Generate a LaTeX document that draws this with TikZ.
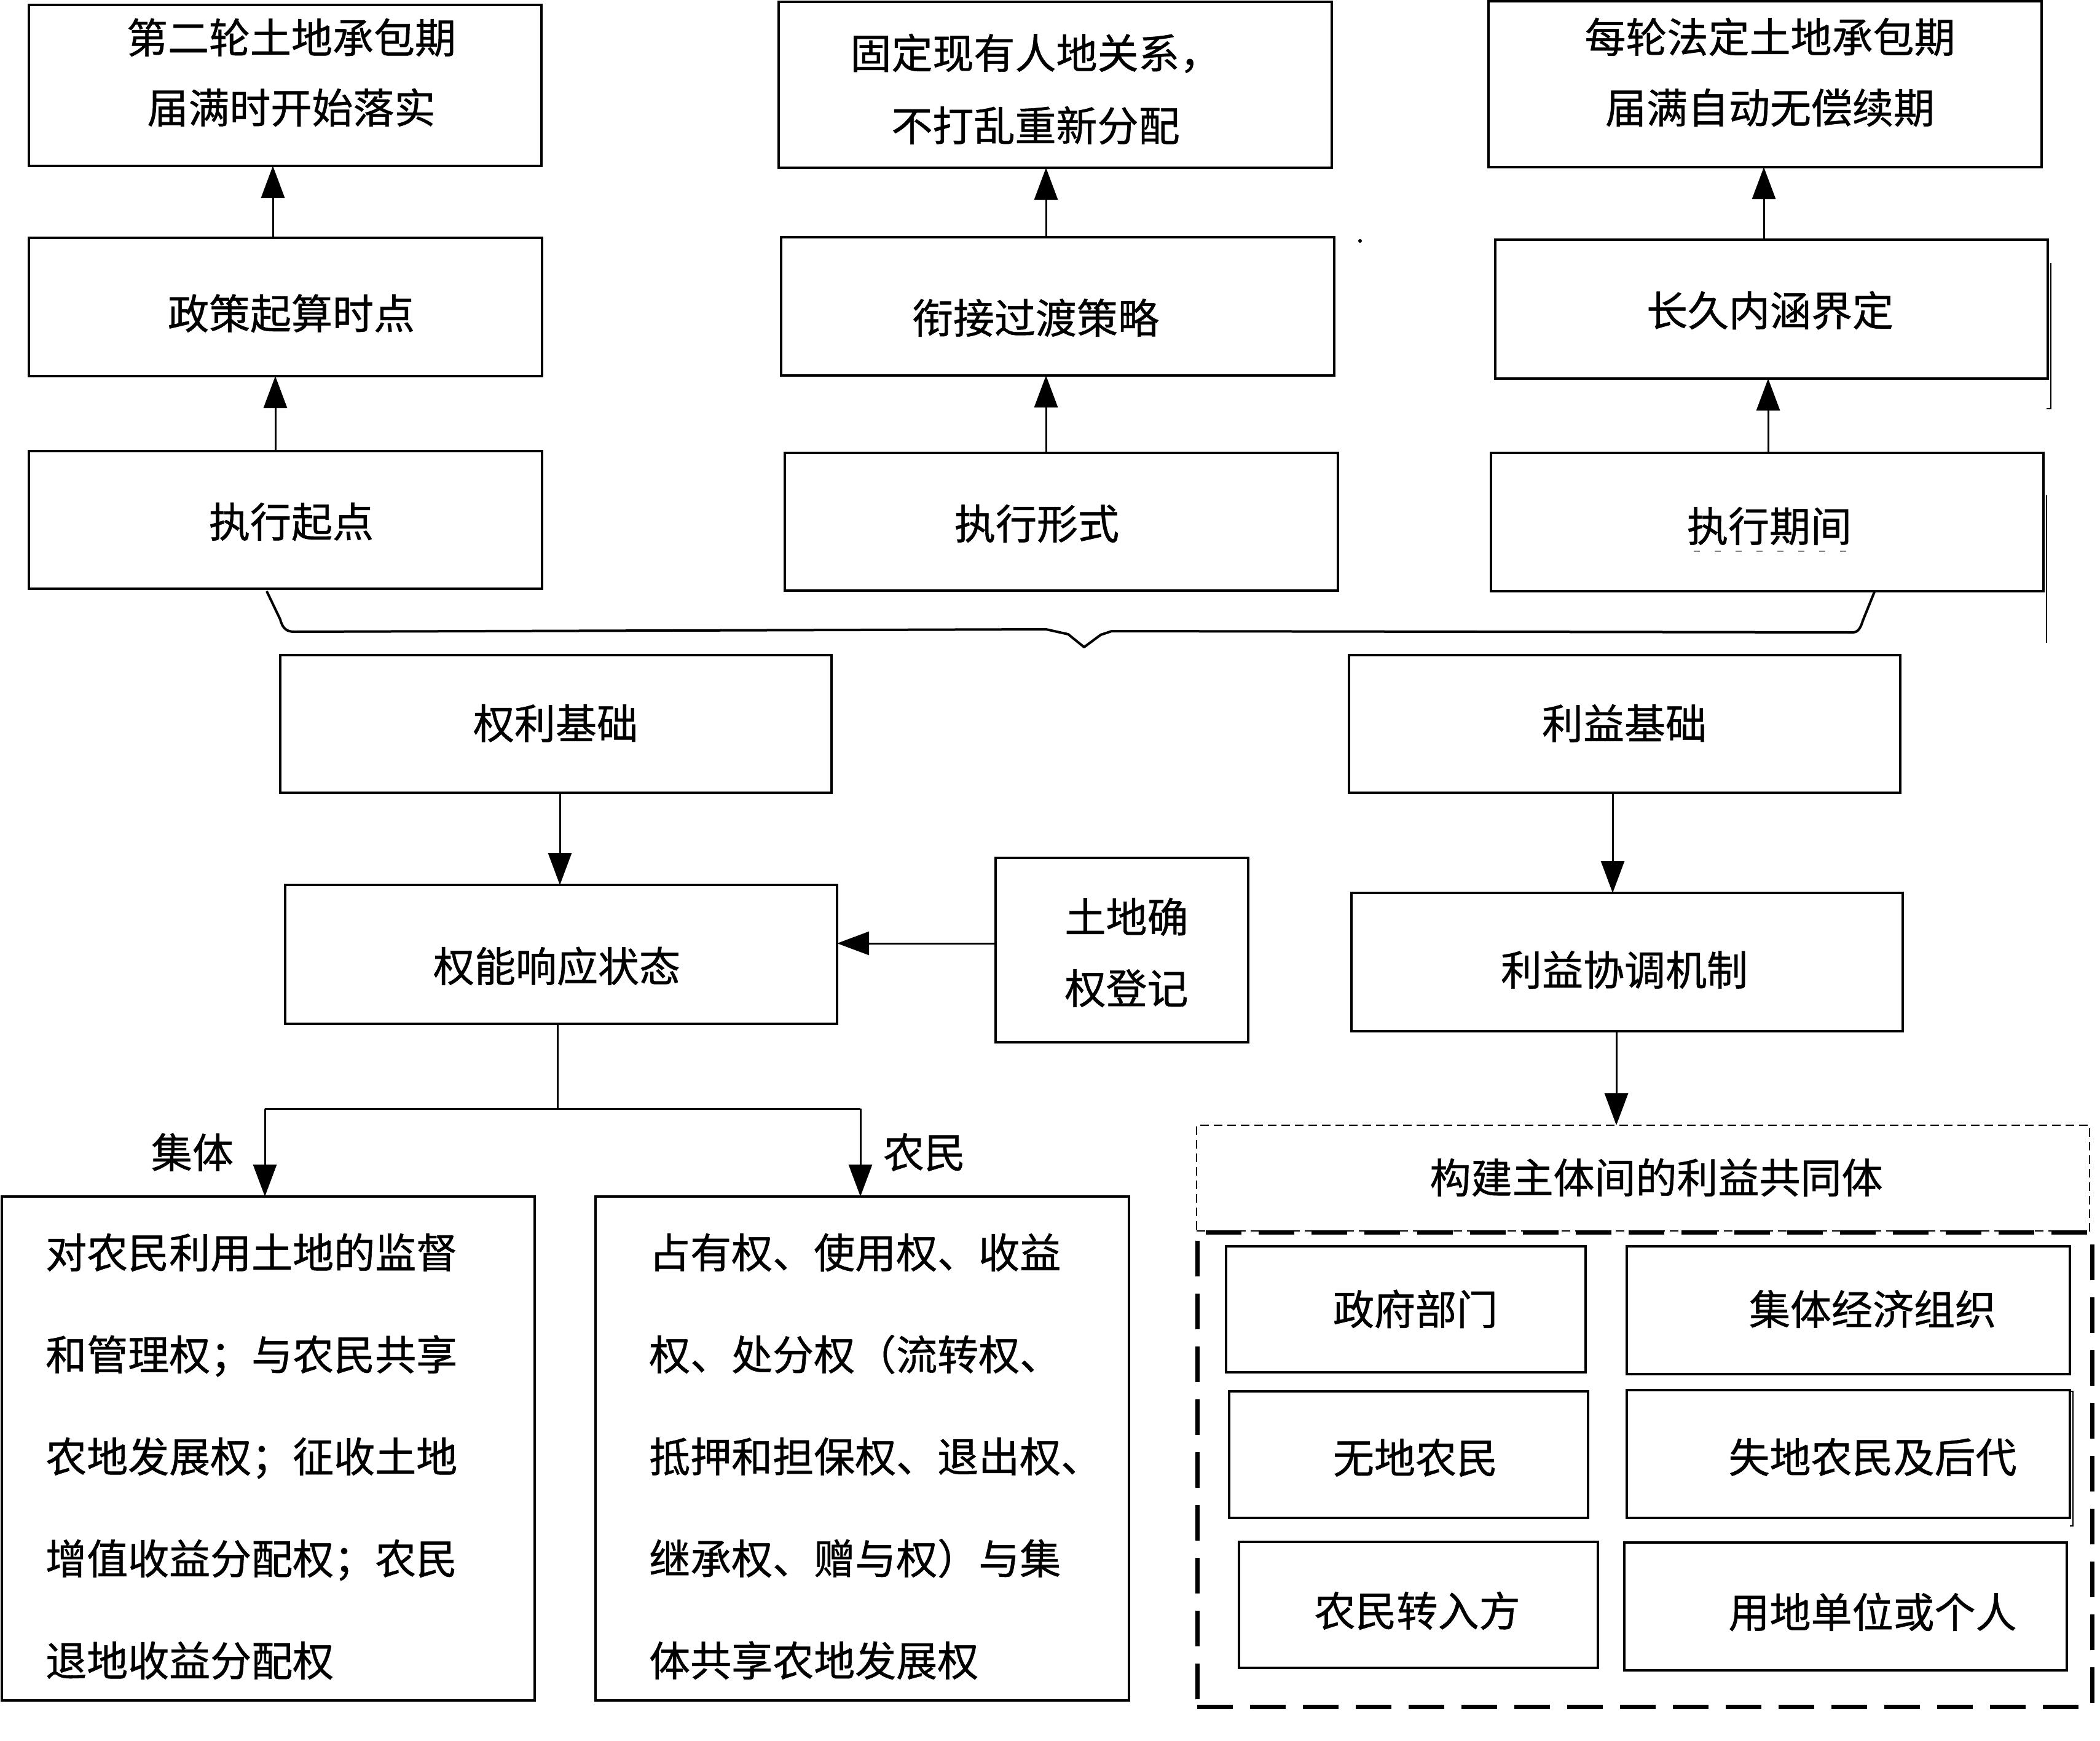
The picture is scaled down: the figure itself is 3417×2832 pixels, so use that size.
\documentclass[tikz,border=0pt]{standalone}
\usepackage{fontspec}
\setmainfont{Noto Sans CJK SC}[FakeBold=0.8]
\usetikzlibrary{arrows.meta}
\begin{document}
\begin{tikzpicture}[x=1pt,y=-1pt,
  box/.style={draw, line width=3.5pt, inner sep=0pt, outer sep=0pt},
  txt/.style={font=\fontsize{67}{80}\selectfont, inner sep=0pt, align=center},
  arr/.style={line width=3pt, -{Triangle[width=38pt,length=52pt]}},
  ln/.style={line width=3pt},
  thin dash/.style={draw, line width=2pt, dash pattern=on 14pt off 8pt, inner sep=0pt, outer sep=0pt},
  thick dash/.style={draw, line width=7pt, dash pattern=on 58pt off 28pt, inner sep=0pt, outer sep=0pt},
  stray/.style={line width=1.5pt}]
\useasboundingbox (0,0) rectangle (3417,2832);

% ---------- top three columns ----------
\node[box, minimum width=834pt, minimum height=262pt] (b1) at (464,139) {};
\node[box, minimum width=835pt, minimum height=225pt] (b2) at (464.5,499.5) {};
\node[box, minimum width=835pt, minimum height=224pt] (b3) at (464.5,846) {};
\node[box, minimum width=900pt, minimum height=270pt] (b4) at (1717,138) {};
\node[box, minimum width=900pt, minimum height=225pt] (b5) at (1721,498.5) {};
\node[box, minimum width=900pt, minimum height=224pt] (b6) at (1727,849) {};
\node[box, minimum width=900pt, minimum height=270pt] (b7) at (2872,137) {};
\node[box, minimum width=899pt, minimum height=226pt] (b8) at (2882.5,503) {};
\node[box, minimum width=899pt, minimum height=225pt] (b9) at (2875.5,849.5) {};

\node[txt, font=\fontsize{67}{114}\selectfont] (t1) at (474,118) {第二轮土地承包期\\届满时开始落实};
\node[txt] (t2) at (474,510) {政策起算时点};
\node[txt] (t3) at (474,849) {执行起点};
\node[txt, font=\fontsize{67}{118}\selectfont] (t4) at (1685,145) {固定现有人地关系，\\不打乱重新分配};
\node[txt] (t5) at (1685,517) {衔接过渡策略};
\node[txt] (t6) at (1687,852) {执行形式};
\node[txt, font=\fontsize{67}{115}\selectfont] (t7) at (2880,117.5) {每轮法定土地承包期\\届满自动无偿续期};
\node[txt] (t8) at (2880,505) {长久内涵界定};
\node[txt] (t9) at (2879,856) {执行期间};

\coordinate (ax1) at (448,0);
\coordinate (ax2) at (444,0);
\coordinate (mx) at (1702,0);
\coordinate (rx1) at (2877,0);
\coordinate (rx2) at (2870,0);
\draw[arr] (b3.north -| ax1) -- (b2.south -| ax1);
\draw[arr] (b2.north -| ax2) -- (b1.south -| ax2);
\draw[arr] (b6.north -| mx) -- (b5.south -| mx);
\draw[arr] (b5.north -| mx) -- (b4.south -| mx);
\draw[arr] (b9.north -| rx1) -- (b8.south -| rx1);
\draw[arr] (b8.north -| rx2) -- (b7.south -| rx2);

% brace
\draw[line width=4pt, line join=round]
  (434,962) -- (456,1008) .. controls (460,1024) and (468,1028) .. (479,1028)
  -- (1702,1024) -- (1738,1032) -- (1764,1053) -- (1791,1033) -- (1809,1027)
  -- (3015,1029) .. controls (3024,1029) and (3028,1020) .. (3031,1010) -- (3050,963);

% small artefacts
\fill (2213,392) circle (3pt);
\draw[stray] (3337,428) -- (3337,665) -- (3330,665);
\draw[stray] (3330,806) -- (3330,1046);
\draw[line width=2pt, gray, dash pattern=on 10pt off 24pt] (2756,897) -- (3005,897);

% ---------- second level ----------
\node[box, minimum width=897pt, minimum height=224pt] (r1) at (904.5,1178) {};
\node[txt] (tr1) at (904,1177) {权利基础};
\node[box, minimum width=897pt, minimum height=224pt] (i1) at (2643.5,1178) {};
\node[txt] (ti1) at (2643,1177) {利益基础};

\node[box, minimum width=898pt, minimum height=226pt] (r2) at (913,1553) {};
\node[txt] (tr2) at (906,1572) {权能响应状态};
\node[box, minimum width=411pt, minimum height=300pt] (lq) at (1825.5,1546) {};
\node[txt, font=\fontsize{67}{116}\selectfont] (tlq) at (1833,1550) {土地确\\权登记};
\node[box, minimum width=897pt, minimum height=225pt] (i2) at (2647.5,1565.5) {};
\node[txt] (ti2) at (2643,1578) {利益协调机制};

\coordinate (qx) at (911,0);
\coordinate (ly) at (0,1535);
\coordinate (ix) at (2624,0);
\coordinate (jx) at (2630,0);
\draw[arr] (r1.south -| qx) -- (r2.north -| qx);
\draw[arr] (lq.west |- ly) -- (r2.east |- ly);
\draw[arr] (i1.south -| ix) -- (i2.north -| ix);

% ---------- left bottom ----------
\node[box, minimum width=867pt, minimum height=820pt] (cb) at (436.5,2357) {};
\node[box, minimum width=868pt, minimum height=820pt] (fb) at (1403,2357) {};
\node[txt, align=left, anchor=west, font=\fontsize{67}{166}\selectfont] (tcb) at (74,2370)
  {对农民利用土地的监督\\和管理权；与农民共享\\农地发展权；征收土地\\增值收益分配权；农民\\退地收益分配权};
\node[txt, align=left, anchor=west, font=\fontsize{67}{166}\selectfont] (tfb) at (1056,2370)
  {占有权、使用权、收益\\权、处分权（流转权、\\抵押和担保权、退出权、\\继承权、赠与权）与集\\体共享农地发展权};

\coordinate (tj) at (907,1804);
\coordinate (tl) at (431,1804);
\coordinate (tr) at (1400,1804);
\draw[ln] (r2.south -| tj) -- (tj);
\draw[ln] (tl) -- (tr);
\draw[arr] (tl) -- (cb.north -| tl);
\draw[arr] (tr) -- (fb.north -| tr);
\node[txt] (lab1) at (313,1875) {集体};
\node[txt] (lab2) at (1504,1875) {农民};

% ---------- right bottom ----------
\node[thin dash, minimum width=1453pt, minimum height=172pt] (tt) at (2673.5,1917) {};
\node[txt] (ttt) at (2695,1916) {构建主体间的利益共同体};
\node[thick dash, minimum width=1456pt, minimum height=772pt] (dd) at (2676,2391) {};
\draw[arr] (i2.south -| jx) -- (tt.north -| jx);

\node[box, minimum width=585pt, minimum height=205pt] (g1) at (2287.5,2130.5) {};
\node[box, minimum width=721pt, minimum height=208pt] (g2) at (3007.5,2132) {};
\node[box, minimum width=584pt, minimum height=206pt] (g3) at (2292,2367) {};
\node[box, minimum width=721pt, minimum height=208pt] (g4) at (3007.5,2366) {};
\node[box, minimum width=584pt, minimum height=205pt] (g5) at (2308,2611.5) {};
\node[box, minimum width=720pt, minimum height=208pt] (g6) at (3003,2614) {};
\node[txt] (tg1) at (2303,2130) {政府部门};
\node[txt] (tg2) at (3047,2130) {集体经济组织};
\node[txt] (tg3) at (2303,2372) {无地农民};
\node[txt] (tg4) at (3047,2371) {失地农民及后代};
\node[txt] (tg5) at (2306,2621) {农民转入方};
\node[txt] (tg6) at (3047,2623) {用地单位或个人};
\draw[stray] (3368,2264) -- (3373,2264) -- (3373,2483) -- (3368,2483);
\end{tikzpicture}
\end{document}
